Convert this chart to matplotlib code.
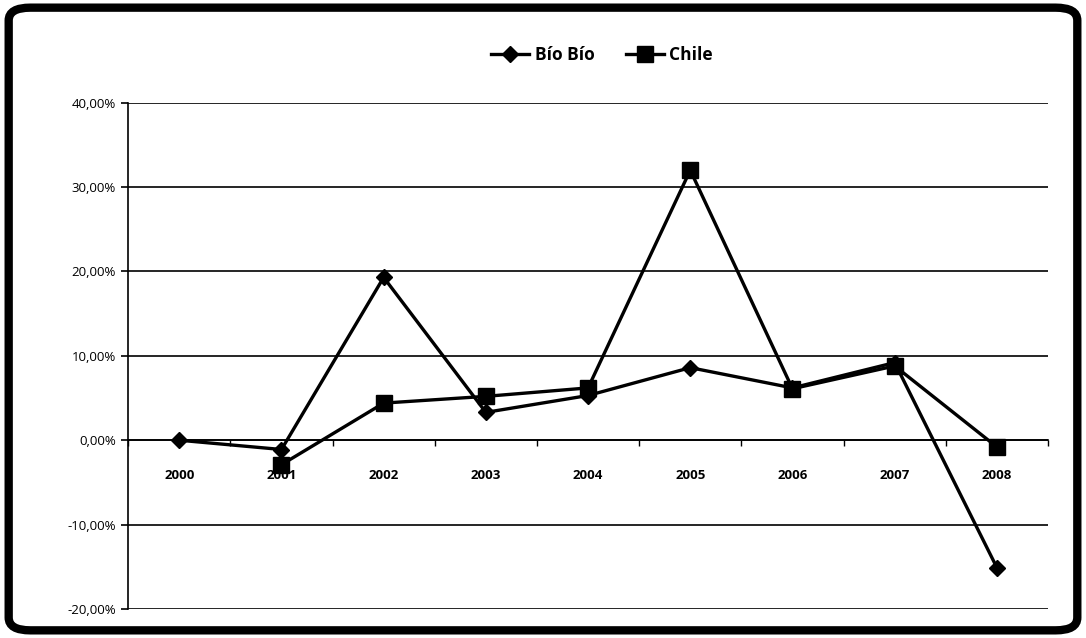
import matplotlib
matplotlib.use("Agg")
import matplotlib.pyplot as plt
import matplotlib.ticker as ticker
from matplotlib.patches import FancyBboxPatch

years = ["2000", "2001", "2002", "2003", "2004", "2005", "2006", "2007", "2008"]
bio_bio = [0.0, -1.1, 19.3, 3.3, 5.3, 8.6, 6.2, 9.2, -15.1]
chile_years = ["2001", "2002", "2003", "2004", "2005", "2006", "2007", "2008"]
chile = [-2.9, 4.4, 5.2, 6.2, 32.0, 6.1, 8.8, -0.8]

plt.rcParams["font.family"] = ["Open Sans", "DejaVu Sans"]

figure = plt.figure(figsize=(10.86, 6.38), dpi=100)
axes = figure.add_axes([0.118, 0.0455, 0.847, 0.7935])

x_bio = [years.index(y) for y in years]
x_chile = [years.index(y) for y in chile_years]

axes.plot(x_bio, bio_bio, color="black", linewidth=2.4, marker="D",
          markersize=8, label="Bío Bío", zorder=4)
axes.plot(x_chile, chile, color="black", linewidth=2.4, marker="s",
          markersize=11, label="Chile", zorder=3)

axes.set_xlim(-0.5, len(years) - 0.5)
axes.set_ylim(-20, 40)

# Gridlines every 10%.
axes.yaxis.set_major_locator(ticker.MultipleLocator(10))
axes.yaxis.set_major_formatter(
    ticker.FuncFormatter(lambda v, _: f"{v:.2f}%".replace(".", ","))
)
axes.grid(axis="y", color="black", linewidth=1.2)
axes.set_axisbelow(True)

# Category axis crosses at zero, labels sit below it.
axes.spines["bottom"].set_position(("data", 0))
axes.spines["bottom"].set_linewidth(1.2)
axes.spines["top"].set_visible(False)
axes.spines["right"].set_visible(False)
axes.spines["left"].set_linewidth(1.2)
axes.set_xticks(range(len(years)))
axes.set_xticklabels(years, fontsize=9.5, fontweight="bold")
axes.set_xticks([i - 0.5 for i in range(len(years) + 1)], minor=True)
axes.tick_params(axis="x", which="major", length=0, pad=21)
axes.tick_params(axis="x", which="minor", length=4, direction="out", width=1)
axes.tick_params(axis="y", length=5, width=1.2, labelsize=9.5, pad=4)

legend = axes.legend(loc="center", bbox_to_anchor=(0.515, 1.095), ncol=2,
                     frameon=False, prop={"size": 12.5, "weight": "bold"},
                     handlelength=2.2, columnspacing=1.8, handletextpad=0.3)

# Rounded outer frame.
frame = FancyBboxPatch((0.008, 0.012), 0.984, 0.976,
                       boxstyle="round,pad=0,rounding_size=0.02",
                       transform=figure.transFigure, fill=False,
                       edgecolor="black", linewidth=6)
figure.patches.append(frame)

figure.savefig("out.png", dpi=100)
plt.close()
